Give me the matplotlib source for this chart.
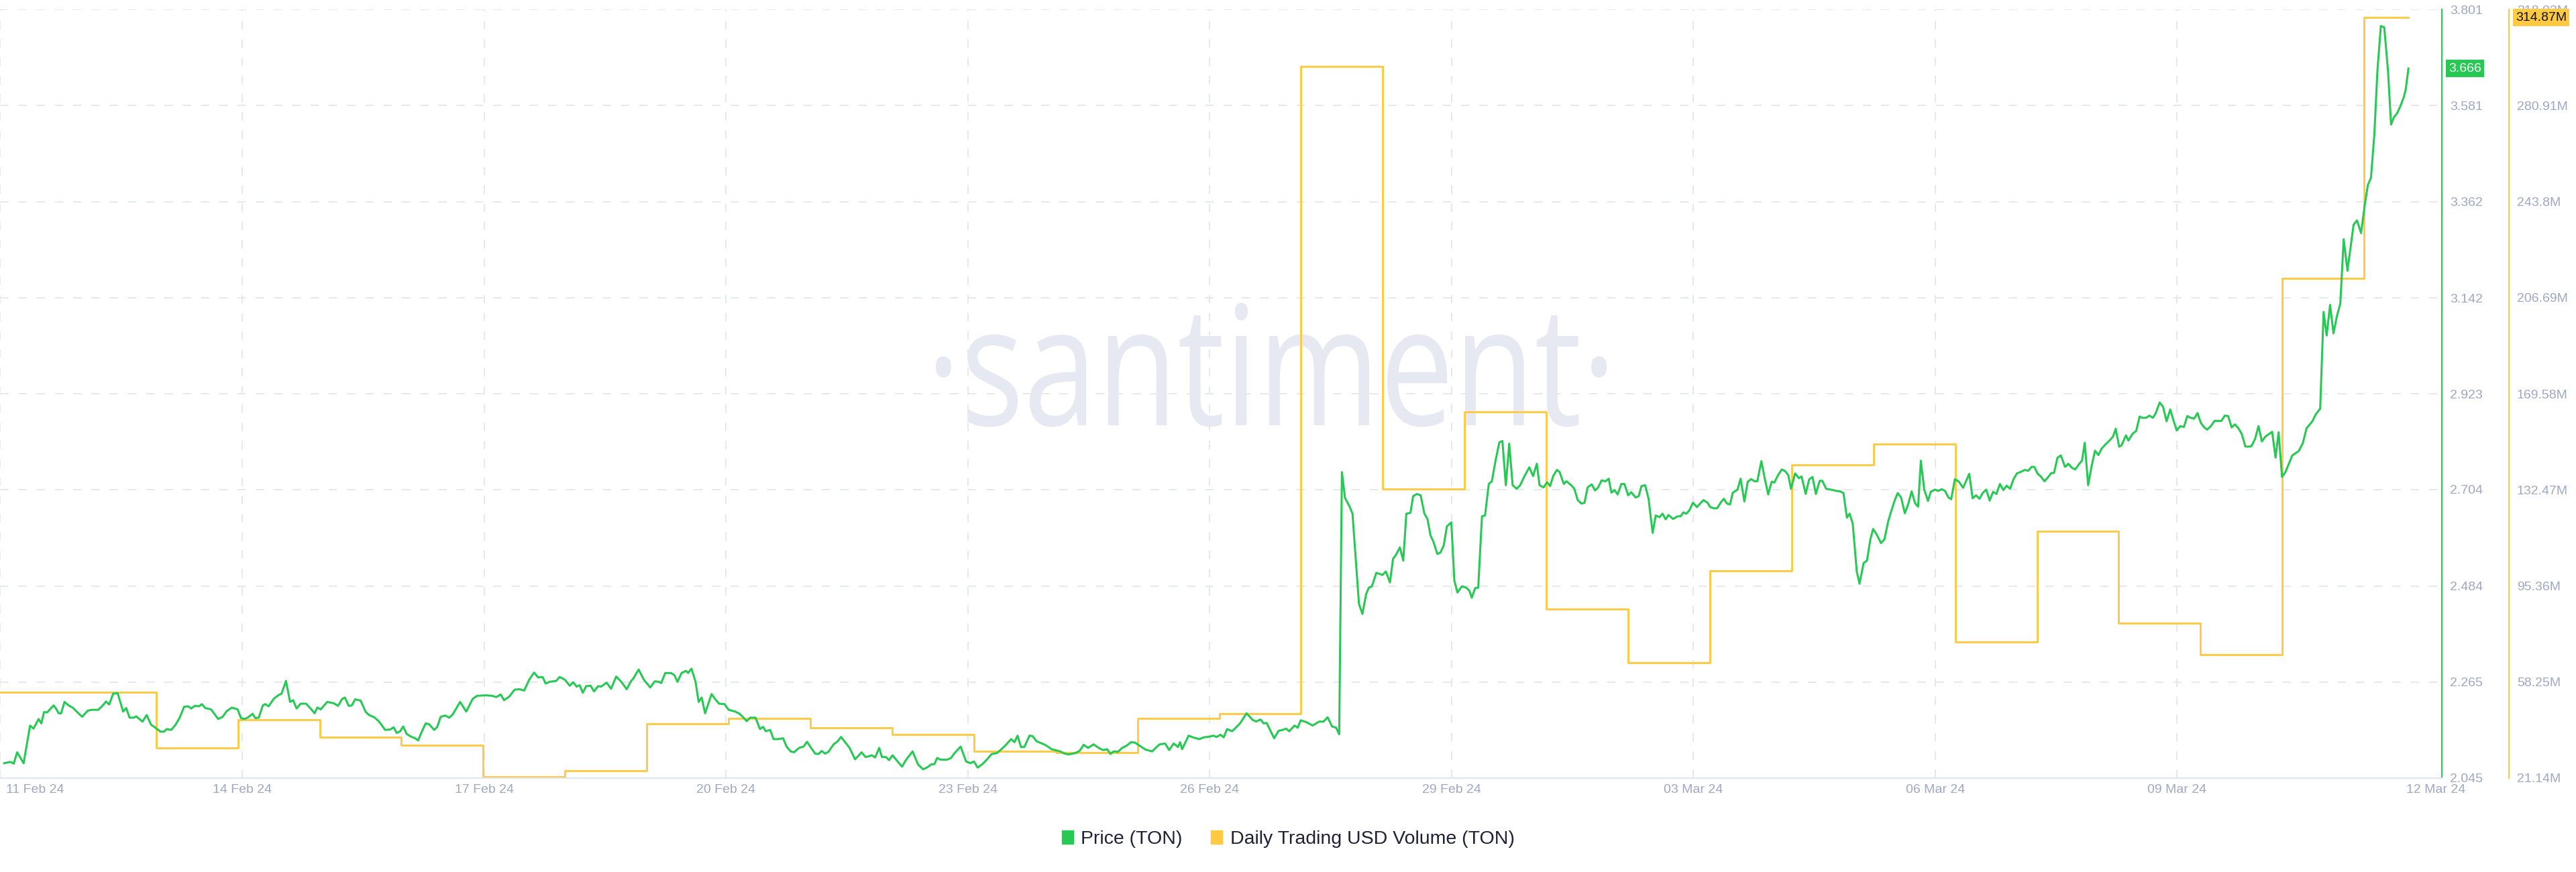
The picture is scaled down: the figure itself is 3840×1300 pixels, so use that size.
import numpy as np
import matplotlib.pyplot as plt
from matplotlib.patches import Patch, PathPatch
from matplotlib.textpath import TextPath
from matplotlib.font_manager import FontProperties
from matplotlib.transforms import Affine2D, ScaledTranslation, blended_transform_factory

plt.rcParams['font.family'] = ['Liberation Sans', 'DejaVu Sans']

# Horas desde el 11 Feb 2024 00:00 UTC
price_hours = [
    3.4, 5.3, 6.2, 7.2, 9.1, 11.0, 12.0, 13.5, 14.3, 15.1,
    16.0, 17.9, 18.5, 19.4, 20.1, 21.1, 22.3, 23.5, 24.8, 26.3,
    27.9, 29.2, 31.0, 32.1, 33.3, 34.2, 35.4, 36.7, 38.3, 39.2,
    40.2, 41.5, 42.1, 44.0, 45.2, 46.5, 47.6, 49.3, 50.3, 51.1,
    52.4, 53.7, 54.9, 56.2, 57.4, 58.3, 59.3, 60.6, 61.4, 62.4,
    64.1, 66.2, 67.5, 68.7, 70.2, 71.9, 72.9, 74.0, 75.0, 76.3,
    77.1, 78.1, 79.3, 80.0, 81.0, 82.5, 83.8, 84.8, 86.1, 87.3,
    88.2, 89.2, 90.4, 92.0, 93.2, 94.5, 95.3, 96.3, 98.2, 100.1,
    101.4, 102.6, 103.4, 104.5, 105.4, 106.4, 108.0, 109.5, 110.5, 112.0,
    113.3, 114.2, 115.2, 116.7, 117.7, 118.6, 119.6, 120.5, 121.5, 122.7,
    124.0, 124.9, 125.9, 127.1, 128.1, 129.6, 130.5, 131.5, 132.8, 134.0,
    135.0, 136.3, 137.2, 139.0, 140.9, 142.2, 144.7, 146.6, 147.8, 149.1,
    150.1, 151.6, 153.2, 154.7, 156.0, 157.5, 158.9, 160.1, 161.4, 162.3,
    163.5, 165.4, 166.4, 167.9, 169.4, 170.4, 171.4, 172.3, 173.2, 174.2,
    175.5, 176.5, 177.7, 178.6, 180.2, 181.5, 183.0, 184.5, 186.1, 187.4,
    188.0, 189.6, 191.1, 193.0, 194.3, 195.5, 196.2, 197.4, 199.1,
    200.1, 201.0, 202.2, 203.5, 204.1, 205.1, 206.3, 207.2, 208.1, 209.1,
    210.1, 211.0, 212.2, 213.2, 214.8, 216.0, 217.9, 219.2, 220.4, 221.3,
    222.3, 223.9, 225.2, 226.1, 226.9, 228.2, 229.2, 230.5, 232.0, 233.0,
    234.2, 235.2, 236.7, 238.0, 239.0, 240.2, 241.4, 242.4, 243.3, 244.3,
    245.3, 246.8, 248.0, 249.0, 250.5, 251.5, 253.1, 254.1, 255.0, 256.2,
    258.1, 259.0, 260.2, 261.0, 262.2, 263.1, 264.1, 265.6, 266.9, 268.1,
    270.0, 271.6, 273.1, 274.4, 275.4, 276.4, 277.2, 278.2, 280.1, 281.3,
    282.2, 284.1, 285.7, 287.0, 288.0, 289.1, 290.5, 292.0, 293.2, 294.7,
    295.8, 297.3, 298.9, 299.9, 300.8, 301.8, 302.8, 304.3, 305.2, 306.4,
    308.3, 309.3, 310.8, 313.3, 314.6, 315.8, 317.7, 319.0, 320.2, 321.5,
    323.1, 324.6, 325.9, 327.1, 328.1, 329.0, 330.3, 331.5, 332.8, 334.1,
    335.3, 336.6, 338.4, 340.3, 341.6, 342.5, 344.1, 345.3, 346.6, 347.9,
    348.5, 349.1, 351.0, 352.3, 354.1, 355.4, 357.3, 358.3, 359.2, 360.4,
    361.3, 362.3, 363.8, 366.1, 368.0, 369.8, 370.8, 372.1, 373.0, 373.9,
    376.1, 377.4, 378.6, 379.6, 380.5, 382.1, 383.0, 383.9, 385.5, 387.4,
    389.3, 390.6, 391.8, 393.1, 394.3, 395.2,
    396.0, 396.9, 398.2, 399.1, 400.0, 401.0, 402.0, 403.1, 403.9, 404.8,
    406.1, 407.9, 408.9, 410.1, 411.0, 411.8, 413.0, 414.0, 414.9, 416.1,
    416.9, 418.0, 419.1, 420.2, 421.1, 422.0, 422.8, 424.0, 424.9, 425.9,
    426.8, 428.1, 429.0, 429.9, 431.2, 432.5, 433.4, 434.1, 435.1, 436.0,
    437.1, 438.0, 439.1, 440.0, 441.1, 442.2, 443.1, 444.1, 445.1, 446.1,
    447.3, 448.3, 449.6, 451.0, 452.1, 453.2, 454.0, 455.2, 456.2, 457.1,
    458.0, 459.1, 459.9, 461.1, 461.9, 463.3, 464.2, 465.2, 466.3, 467.2,
    468.1, 469.3, 470.3, 471.2, 472.2, 473.4, 474.3, 475.1, 476.0, 476.9,
    478.0, 478.9, 480.0, 480.9, 482.2, 483.1, 483.9, 485.0, 486.0, 486.6,
    487.2, 488.1, 489.2, 490.1, 491.0, 491.8, 493.2, 494.5, 495.4, 496.2,
    497.1, 498.0, 499.0, 500.2, 501.1, 502.1, 503.3, 504.1, 505.3, 506.2,
    507.2, 508.1, 509.0, 509.9, 510.7, 512.1, 513.0, 514.1,
    515.1, 516.1, 517.1, 517.9, 519.1, 520.1, 521.1, 522.1, 522.9, 524.0,
    525.1, 526.1, 527.0, 527.8, 529.0, 530.1, 530.9, 532.1, 533.1, 534.1,
    535.1, 536.2, 537.0, 538.1, 539.4, 541.2, 542.2, 543.2, 544.2, 545.0,
    545.9, 547.1, 547.9, 549.1, 550.1, 551.1, 551.9, 552.9, 554.2, 555.2,
    556.3, 557.3, 558.3, 559.1, 560.1, 561.2, 562.2, 563.2, 564.2, 565.1,
    565.9, 566.9, 568.0, 568.8, 570.0, 571.0, 572.0, 573.0, 574.0, 574.8,
    575.9, 577.1, 578.3, 580.1, 581.1, 582.1, 583.1, 584.1, 585.1, 586.1,
    587.1, 588.1, 589.1, 590.1, 591.1, 592.1, 593.1, 594.1, 595.4, 596.4,
    597.4, 598.4, 599.2, 600.2, 601.0, 602.2, 603.2, 604.2, 605.0, 606.0,
    607.0, 608.2, 609.2, 610.2, 611.2, 612.5, 613.2, 614.0, 615.0, 616.0,
    617.0, 618.0, 619.0, 620.3, 621.0, 622.3, 623.1, 624.1, 624.8, 626.1,
    626.8, 628.1, 629.1, 630.1, 630.8, 632.0, 633.0, 634.0, 634.8, 636.0,
    637.0, 638.0, 639.1, 640.0, 641.0, 642.0, 643.1, 644.1, 645.1, 646.1,
    647.1, 648.1, 649.1, 649.9, 650.9, 652.1, 653.1, 654.1, 655.1, 656.1,
    657.1, 658.1, 659.1, 660.1, 661.1, 661.7,
    662.9, 664.0, 665.0, 666.0, 667.0, 669.0, 670.0, 670.9, 671.9, 672.9,
    673.9, 674.9, 676.8, 678.0, 679.1, 680.8, 681.8, 683.1, 684.1, 685.0,
    686.0, 687.0, 688.0, 689.0, 690.0, 691.1, 692.9, 693.9, 695.1, 696.2,
    697.1, 698.0, 699.0, 699.9, 700.9, 701.9, 703.0, 703.9, 704.7, 705.7,
    706.7, 707.7, 708.2, 709.0,
]

# Precio de TON en USD
price_values = [
    2.079, 2.082, 2.078, 2.104, 2.079, 2.165, 2.158, 2.180, 2.170, 2.196,
    2.195, 2.211, 2.205, 2.193, 2.193, 2.219, 2.211, 2.206, 2.196, 2.185,
    2.199, 2.201, 2.201, 2.209, 2.220, 2.213, 2.238, 2.239, 2.197, 2.205,
    2.183, 2.183, 2.186, 2.174, 2.189, 2.167, 2.161, 2.151, 2.151, 2.157,
    2.155, 2.167, 2.183, 2.208, 2.209, 2.204, 2.210, 2.209, 2.214, 2.205,
    2.202, 2.180, 2.185, 2.198, 2.206, 2.202, 2.182, 2.180, 2.184, 2.192,
    2.182, 2.183, 2.211, 2.214, 2.209, 2.226, 2.234, 2.238, 2.267, 2.219,
    2.223, 2.204, 2.215, 2.215, 2.205, 2.193, 2.206, 2.202, 2.219, 2.216,
    2.210, 2.226, 2.229, 2.210, 2.211, 2.225, 2.222, 2.196, 2.189, 2.184,
    2.175, 2.166, 2.155, 2.156, 2.161, 2.148, 2.152, 2.163, 2.146, 2.140,
    2.136, 2.131, 2.150, 2.170, 2.168, 2.155, 2.162, 2.185, 2.188, 2.183,
    2.190, 2.207, 2.219, 2.197, 2.226, 2.233, 2.234, 2.233, 2.230, 2.236,
    2.223, 2.231, 2.247, 2.248, 2.245, 2.270, 2.286, 2.275, 2.276, 2.261,
    2.265, 2.267, 2.276, 2.270, 2.256, 2.264, 2.254, 2.257, 2.240, 2.255,
    2.256, 2.243, 2.255, 2.254, 2.263, 2.249, 2.277, 2.265, 2.248, 2.267,
    2.272, 2.293, 2.270, 2.252, 2.266, 2.265, 2.262, 2.285, 2.285,
    2.280, 2.265, 2.285, 2.290, 2.285, 2.295, 2.265, 2.219, 2.229, 2.193,
    2.216, 2.237, 2.224, 2.215, 2.214, 2.201, 2.197, 2.192, 2.183, 2.175,
    2.183, 2.183, 2.157, 2.162, 2.152, 2.155, 2.134, 2.134, 2.136, 2.117,
    2.106, 2.104, 2.114, 2.117, 2.128, 2.114, 2.101, 2.100, 2.107, 2.101,
    2.105, 2.122, 2.129, 2.139, 2.124, 2.114, 2.088, 2.096, 2.104, 2.093,
    2.097, 2.092, 2.114, 2.093, 2.093, 2.086, 2.097, 2.083, 2.071, 2.087,
    2.106, 2.076, 2.065, 2.070, 2.076, 2.077, 2.091, 2.087, 2.087, 2.091,
    2.101, 2.117, 2.083, 2.079, 2.083, 2.069, 2.077, 2.089, 2.100, 2.102,
    2.109, 2.120, 2.134, 2.127, 2.142, 2.116, 2.116, 2.142, 2.141, 2.129,
    2.123, 2.119, 2.111, 2.106, 2.101, 2.099, 2.102, 2.107, 2.121, 2.114,
    2.122, 2.114, 2.109, 2.111, 2.100, 2.106, 2.105, 2.114, 2.119, 2.127,
    2.126, 2.119, 2.110, 2.106, 2.116, 2.122, 2.124, 2.109, 2.124, 2.116,
    2.127, 2.111, 2.142, 2.138, 2.134, 2.138, 2.140, 2.142, 2.139, 2.144,
    2.138, 2.157, 2.152, 2.170, 2.193, 2.178, 2.174, 2.179, 2.170, 2.171,
    2.136, 2.153, 2.155, 2.158, 2.152, 2.165, 2.160, 2.177, 2.173, 2.165,
    2.174, 2.174, 2.184, 2.163, 2.160, 2.145,
    2.744, 2.685, 2.666, 2.649, 2.551, 2.443, 2.420, 2.465, 2.480, 2.483,
    2.514, 2.509, 2.517, 2.492, 2.546, 2.554, 2.572, 2.542, 2.649, 2.651,
    2.689, 2.694, 2.691, 2.649, 2.637, 2.599, 2.586, 2.557, 2.560, 2.577,
    2.620, 2.629, 2.496, 2.469, 2.483, 2.480, 2.473, 2.457, 2.479, 2.480,
    2.643, 2.645, 2.717, 2.723, 2.771, 2.812, 2.815, 2.714, 2.809, 2.714,
    2.706, 2.714, 2.735, 2.755, 2.735, 2.763, 2.714, 2.709, 2.721, 2.712,
    2.735, 2.749, 2.744, 2.717, 2.723, 2.714, 2.706, 2.680, 2.672, 2.674,
    2.709, 2.716, 2.702, 2.709, 2.725, 2.723, 2.729, 2.697, 2.703, 2.693,
    2.717, 2.717, 2.691, 2.698, 2.686, 2.689, 2.712, 2.714, 2.683, 2.643,
    2.605, 2.645, 2.641, 2.649, 2.636, 2.646, 2.637, 2.643, 2.643, 2.652,
    2.649, 2.657, 2.674, 2.664, 2.672, 2.680, 2.674, 2.664, 2.661, 2.662,
    2.675, 2.683, 2.672, 2.670, 2.697, 2.704, 2.729, 2.677,
    2.722, 2.728, 2.723, 2.723, 2.769, 2.729, 2.693, 2.722, 2.720, 2.737,
    2.750, 2.746, 2.737, 2.706, 2.741, 2.730, 2.734, 2.694, 2.727, 2.733,
    2.694, 2.724, 2.724, 2.706, 2.704, 2.701, 2.700, 2.696, 2.640, 2.649,
    2.627, 2.517, 2.489, 2.536, 2.542, 2.591, 2.614, 2.602, 2.582, 2.590,
    2.631, 2.657, 2.681, 2.696, 2.686, 2.650, 2.671, 2.700, 2.673, 2.665,
    2.770, 2.704, 2.678, 2.699, 2.704, 2.701, 2.705, 2.701, 2.686, 2.682,
    2.728, 2.722, 2.708, 2.740, 2.684, 2.691, 2.683, 2.697, 2.704, 2.679,
    2.699, 2.694, 2.717, 2.703, 2.713, 2.706, 2.728, 2.741, 2.745, 2.749,
    2.747, 2.756, 2.756, 2.740, 2.735, 2.723, 2.732, 2.742, 2.742, 2.777,
    2.782, 2.756, 2.763, 2.754, 2.750, 2.764, 2.770, 2.811, 2.714, 2.757,
    2.793, 2.783, 2.798, 2.809, 2.814, 2.825, 2.843, 2.802, 2.805, 2.828,
    2.816, 2.832, 2.838, 2.871, 2.868, 2.868, 2.873, 2.868, 2.878, 2.903,
    2.893, 2.860, 2.887, 2.863, 2.839, 2.849, 2.847, 2.872, 2.868, 2.866,
    2.879, 2.856, 2.846, 2.841, 2.848, 2.861, 2.861, 2.861, 2.873, 2.872,
    2.846, 2.853, 2.844, 2.831, 2.803, 2.802,
    2.803, 2.820, 2.849, 2.814, 2.825, 2.836, 2.777, 2.835, 2.733, 2.744,
    2.763, 2.782, 2.792, 2.810, 2.844, 2.860, 2.876, 2.889, 3.110, 3.056,
    3.126, 3.061, 3.100, 3.129, 3.276, 3.204, 3.309, 3.319, 3.290, 3.355,
    3.400, 3.416, 3.516, 3.661, 3.763, 3.760, 3.661, 3.538, 3.554, 3.564,
    3.581, 3.602, 3.618, 3.666,
]

# Volumen diario en millones de USD, del 11 Feb al 11 Mar
volume_musd = [54.4, 54.4, 32.8, 43.8, 37.0, 33.8, 21.6, 23.9, 42.1, 44.3,
               40.6, 37.9, 31.6, 31.1, 44.3, 45.9, 296.1, 132.9, 162.5, 86.4,
               65.7, 101.1, 142.0, 150.2, 73.6, 116.5, 80.9, 68.9, 214.2, 314.87]
volume_last_hour = 709

price_ticks = [2.045, 2.265, 2.484, 2.704, 2.923, 3.142, 3.362, 3.581, 3.801]
volume_ticks = [21.14, 58.25, 95.36, 132.47, 169.58, 206.69, 243.8, 280.91, 318.02]
date_labels = ['11 Feb 24', '14 Feb 24', '17 Feb 24', '20 Feb 24', '23 Feb 24', '26 Feb 24',
               '29 Feb 24', '03 Mar 24', '06 Mar 24', '09 Mar 24', '12 Mar 24']

GREEN = '#26c953'
ORANGE = '#ffc942'
GRID = '#e6e8f0'
LABEL = '#9ea8c2'
WATERMARK = '#e7e9f2'
DASH = (0, (6.5, 7.5))

W, H = 3840, 1300
fig = plt.figure(figsize=(W / 100, H / 100), dpi=100)
ax = fig.add_axes([0, 140 / H, 3640 / W, 1146 / H])
ax_vol = ax.twinx()
ax.set_zorder(ax_vol.get_zorder() + 1)
ax.patch.set_visible(False)

# Marca de agua
wm = TextPath((0, 0), '·santiment·', size=100, prop=FontProperties(family='Open Sans'))
ext = wm.get_extents()
sx = 1000 / ext.width
sy = 133 / 53.5
wm_tr = Affine2D().scale(sx, sy).translate(1395 - ext.x0 * sx, 666)
fig.add_artist(PathPatch(wm, transform=wm_tr, fc=WATERMARK, ec='none', zorder=-1))

# Volumen en escalones diarios
vol_x = np.append(np.arange(len(volume_musd)) * 24, volume_last_hour)
vol_y = np.append(volume_musd, volume_musd[-1])
ax_vol.plot(vol_x, vol_y, drawstyle='steps-post', color=ORANGE, lw=2.1)

# Precio
ax.plot(price_hours, price_values, color=GREEN, lw=2.2, solid_joinstyle='round')

ax.set_xlim(2.17, 718.8)
ax.set_ylim(price_ticks[0], price_ticks[-1])
ax_vol.set_ylim(volume_ticks[0], volume_ticks[-1])

# Eje x
tick_hours = 2.26 + 70.98 * np.arange(len(date_labels))
ax.set_xticks(tick_hours, labels=date_labels)
ax.tick_params(axis='x', length=0, pad=6.5, labelsize=14, labelcolor=LABEL)
for h in tick_hours[:-1]:
    ax_vol.axvline(h, color=GRID, lw=1.4, linestyle=DASH, zorder=0)
lbls = ax.get_xticklabels()
lbls[0].set_horizontalalignment('left')
lbls[0].set_transform(lbls[0].get_transform() + ScaledTranslation(0.09, 0, fig.dpi_scale_trans))
lbls[-1].set_transform(lbls[-1].get_transform() + ScaledTranslation(0.25, 0, fig.dpi_scale_trans))

# Ejes y a la derecha
ax.yaxis.tick_right()
ax.set_yticks(price_ticks, labels=[f'{v:.3f}' for v in price_ticks])
ax.tick_params(axis='y', length=0, pad=8.6, labelsize=14, labelcolor=LABEL)
ax_vol.set_yticks(volume_ticks, labels=[f'{v:g}M' for v in volume_ticks])
ax_vol.tick_params(axis='y', length=0, pad=8.6, labelsize=14, labelcolor=LABEL)
ax_vol.yaxis.grid(True, color=GRID, lw=1.4, linestyle=DASH)
ax_vol.set_axisbelow(True)

for s in ['top', 'left']:
    ax.spines[s].set_visible(False)
ax.spines['bottom'].set_color('#e1e4ed')
ax.spines['bottom'].set_linewidth(1.6)
ax.spines['right'].set_color(GREEN)
ax.spines['right'].set_linewidth(1.5)
for s in ['top', 'left', 'bottom']:
    ax_vol.spines[s].set_visible(False)
ax_vol.spines['right'].set_position(('outward', 72))
ax_vol.spines['right'].set_color(ORANGE)
ax_vol.spines['right'].set_linewidth(1.5)

# Etiquetas del ultimo valor
last_price = price_values[-1]
tr_p = blended_transform_factory(ax.transAxes, ax.transData)
ax.text(1, last_price, f'{last_price:.3f}',
        transform=tr_p + ScaledTranslation(0.10, 0, fig.dpi_scale_trans),
        ha='left', va='center', fontsize=14, color='white', clip_on=False, zorder=10,
        bbox=dict(boxstyle='square,pad=0.22', fc=GREEN, ec='none'))
last_vol = volume_musd[-1]
tr_v = blended_transform_factory(ax.transAxes, ax_vol.transData)
ax.text(1, last_vol, f'{last_vol:.2f}M',
        transform=tr_v + ScaledTranslation(1.10, 0, fig.dpi_scale_trans),
        ha='left', va='center', fontsize=14, color='#111111', clip_on=False, zorder=10,
        bbox=dict(boxstyle='square,pad=0.22', fc=ORANGE, ec='none'))

# Leyenda
handles = [Patch(color=GREEN, label='Price (TON)'),
           Patch(color=ORANGE, label='Daily Trading USD Volume (TON)')]
fig.legend(handles=handles, loc='center', bbox_to_anchor=(0.5, 49 / H), ncol=2, frameon=False,
           fontsize=20.5, handlelength=0.6, handleheight=0.65, handletextpad=0.4,
           columnspacing=1.5, labelcolor='#1f2237')

fig.savefig('out.png', dpi=100)
